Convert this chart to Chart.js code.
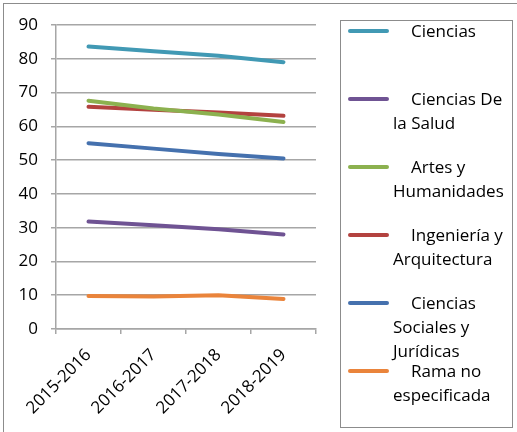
<!DOCTYPE html>
<html>
<head>
<meta charset="utf-8">
<script src="https://cdn.jsdelivr.net/npm/chart.js@4"></script>
<style>
  html, body { margin: 0; padding: 0; background: #fff; overflow: hidden; }
  #wrap { position: relative; width: 517px; height: 432px; }
  #frame { position: absolute; left: 3px; top: 3px; width: 600px; height: 600px; border: 1px solid #8c8c8c; box-sizing: border-box; }
  canvas { position: absolute; left: 0; top: 0; }
  #legend { position: absolute; left: 340px; top: 20px; width: 173px; height: 408px; border: 1px solid #8c8c8c; box-sizing: border-box; }
  .item { position: absolute; left: 52px; width: 118px; font-family: "Open Sans", sans-serif; font-size: 17px; line-height: 24px; color: #000; text-indent: 18px; }
  .swatch { position: absolute; left: 7px; width: 41px; height: 4px; border-radius: 2px; }
</style>
</head>
<body>
<div id="wrap">
  <div id="frame"></div>
  <canvas id="c" width="517" height="432"></canvas>
  <div id="legend"></div>
</div>
<script>
const categories = ["2015-2016", "2016-2017", "2017-2018", "2018-2019"];
const seriesNames = ["Ciencias", "Ciencias De la Salud", "Artes y Humanidades", "Ingeniería y Arquitectura", "Ciencias Sociales y Jurídicas", "Rama no especificada"];
const ciencias = [83.6, 82.2, 80.9, 79.0];
const cienciasSalud = [31.8, 30.7, 29.5, 28.0];
const artesHumanidades = [67.6, 65.3, 63.5, 61.3];
const ingenieriaArquitectura = [65.8, 64.9, 64.1, 63.1];
const socialesJuridicas = [55.0, 53.4, 51.8, 50.5];
const ramaNoEspecificada = [9.8, 9.6, 10.0, 8.9];
const seriesColors = ["#4199B4", "#6F5393", "#8CB14F", "#B3423F", "#4571AE", "#EA843B"];
const yTicks = [0, 10, 20, 30, 40, 50, 60, 70, 80, 90];

const seriesValues = [ciencias, cienciasSalud, artesHumanidades, ingenieriaArquitectura, socialesJuridicas, ramaNoEspecificada];

const datasets = seriesNames.map((name, i) => ({
  label: name,
  data: seriesValues[i],
  borderColor: seriesColors[i],
  backgroundColor: seriesColors[i],
  borderWidth: 4,
  pointRadius: 0,
  tension: 0,
  borderCapStyle: 'round',
  fill: false
}));

const gridColor = '#a6a6a6';
const fontFam = '"Open Sans", sans-serif';

new Chart(document.getElementById('c'), {
  type: 'line',
  data: { labels: categories, datasets: datasets },
  options: {
    responsive: false,
    animation: false,
    devicePixelRatio: 1,
    layout: { padding: { left: 0, top: 25, right: 201, bottom: 0 } },
    plugins: { legend: { display: false }, tooltip: { enabled: false } },
    scales: {
      x: {
        type: 'category',
        offset: true,
        grid: { display: true, drawOnChartArea: false, drawTicks: true, tickLength: 5, color: gridColor, offset: true, lineWidth: 1.5 },
        border: { display: true, color: gridColor, width: 1.5 },
        ticks: { color: '#000', font: { family: fontFam, size: 17 }, minRotation: 45, maxRotation: 45, padding: 11, autoSkip: false },
        afterFit: (s) => { s.height = 432 - 329; }
      },
      y: {
        min: 0, max: 90,
        afterBuildTicks: (s) => { s.ticks = yTicks.map(v => ({ value: v })); },
        grid: { color: gridColor, lineWidth: 1.5, tickLength: 5 },
        border: { display: true, color: gridColor, width: 1.5 },
        ticks: { color: '#000', font: { family: fontFam, size: 17 }, padding: 13 },
        afterFit: (s) => { s.width = 56; }
      }
    }
  }
});

const legend = document.getElementById('legend');
const itemStart = 10;
const itemGap = 68;
seriesNames.forEach((name, i) => {
  const sw = document.createElement('div');
  sw.className = 'swatch';
  sw.style.top = (itemStart + i * itemGap - 2) + 'px';
  sw.style.background = seriesColors[i];
  legend.appendChild(sw);
  const it = document.createElement('div');
  it.className = 'item';
  it.style.top = (itemStart + i * itemGap - 12) + 'px';
  it.textContent = name;
  legend.appendChild(it);
});
</script>
</body>
</html>
